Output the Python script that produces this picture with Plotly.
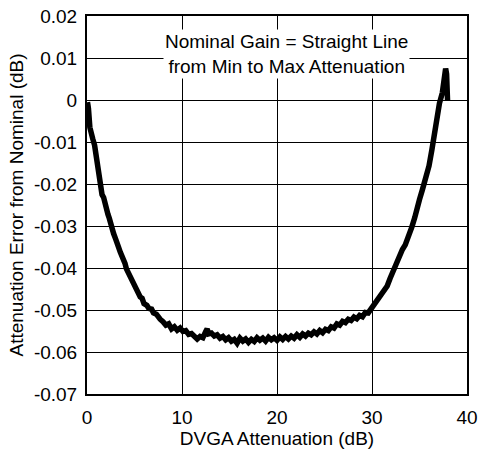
import plotly.graph_objects as go

atten_db = [0.05, 0.15, 0.3, 0.45, 0.6, 0.8, 0.95, 1.1, 1.26, 1.4, 1.58, 1.75, 1.9, 2.05, 2.2, 2.35,
            2.5, 2.65, 2.8, 3.0, 3.1, 3.3, 3.5, 3.65, 3.8, 4.0, 4.15, 4.3, 4.5, 4.65, 4.85, 5.0,
            5.2, 5.4, 5.6, 5.8, 6.0, 6.3, 6.5, 6.8, 7.0, 7.3, 7.5, 7.7,
            8.0, 8.3, 8.6, 8.9, 9.2, 9.5, 9.8, 10.1, 10.4, 10.7, 11.0, 11.3, 11.6, 11.9, 12.2,
            12.5, 12.65, 12.8, 13.1, 13.4, 13.7, 14.0, 14.3, 14.6, 14.9, 15.2, 15.5, 15.8, 16.1,
            16.4, 16.7, 17.0, 17.3, 17.6, 17.9, 18.2, 18.5, 18.8, 19.1, 19.4, 19.7, 20.0, 20.3,
            20.6, 20.9, 21.2, 21.5, 21.8, 22.1, 22.4, 22.7, 23.0, 23.3, 23.6, 23.9, 24.2, 24.5,
            24.8, 25.1, 25.4, 25.7, 26.0, 26.3, 26.6, 26.9, 27.2, 27.5, 27.8, 28.1, 28.4, 28.7,
            29.0, 29.3, 29.6, 29.9,
            30.3, 30.5, 30.8, 31.0, 31.3, 31.6, 31.9, 32.2, 32.5, 32.9, 33.2, 33.5, 33.7, 34.0,
            34.2, 34.5, 34.7, 35.0, 35.3, 35.5, 35.8, 36.0, 36.3, 36.6, 36.9, 37.1, 37.4, 37.6,
            37.75, 37.85, 37.95]

error_db = [-0.0005, -0.002, -0.0065, -0.0085, -0.0092, -0.0108, -0.0135, -0.0160, -0.0190, -0.0197,
            -0.0225, -0.0232, -0.0250, -0.0258, -0.0272, -0.0282, -0.0297, -0.0307, -0.0318, -0.0330,
            -0.0340, -0.0349, -0.0362, -0.0369, -0.0380, -0.0389, -0.0402, -0.0409, -0.0420, -0.0425,
            -0.0438, -0.0442, -0.0452, -0.0458, -0.0469, -0.0472, -0.0485, -0.0489, -0.0496, -0.0498,
            -0.0507, -0.0510, -0.0518, -0.0522,
            -0.0528, -0.0536, -0.0533, -0.0545, -0.0540, -0.0548, -0.0543, -0.0551, -0.0549, -0.0558,
            -0.0556, -0.0565, -0.0569, -0.0563, -0.0566, -0.0551, -0.0545, -0.0557, -0.0555, -0.0562,
            -0.0559, -0.0567, -0.0563, -0.0571, -0.0566, -0.0574, -0.0570, -0.0579, -0.0567, -0.0574,
            -0.0569, -0.0577, -0.0570, -0.0575, -0.0566, -0.0572, -0.0567, -0.0574, -0.0565, -0.0571,
            -0.0566, -0.0572, -0.0564, -0.0570, -0.0563, -0.0569, -0.0562, -0.0567, -0.0559, -0.0565,
            -0.0557, -0.0562, -0.0555, -0.0559, -0.0552, -0.0557, -0.0549, -0.0554, -0.0546, -0.0549,
            -0.0540, -0.0543, -0.0533, -0.0536, -0.0527, -0.0530, -0.0522, -0.0525, -0.0517, -0.0521,
            -0.0513, -0.0516, -0.0506, -0.0507, -0.0497,
            -0.0485, -0.0481, -0.0469, -0.0466, -0.0452, -0.0443, -0.0425, -0.0408, -0.0392, -0.0377,
            -0.0356, -0.0345, -0.0333, -0.0320, -0.0302, -0.0280, -0.0258, -0.0237, -0.0214, -0.0200,
            -0.0174, -0.0157, -0.0119, -0.0077, -0.0027, -0.0008, 0.0017, 0.0055, 0.0075, 0.0062, 0.0]

x_ticks = [0, 10, 20, 30, 40]
y_ticks = [0.02, 0.01, 0, -0.01, -0.02, -0.03, -0.04, -0.05, -0.06, -0.07]
y_tick_labels = ["0.02", "0.01", "0", "-0.01", "-0.02", "-0.03", "-0.04", "-0.05", "-0.06", "-0.07"]

FONT = "Liberation Sans, Arial, sans-serif"
FS = 19

fig = go.Figure()
fig.add_trace(go.Scatter(x=atten_db, y=error_db, mode="lines",
                         line=dict(color="black", width=5.5), showlegend=False))

fig.add_annotation(x=21, y=0.0109, xref="x", yref="y",
                   text="Nominal Gain = Straight Line<br>from Min to Max Attenuation",
                   showarrow=False, bgcolor="white", borderpad=1,
                   font=dict(family=FONT, size=FS, color="black"), align="center")

fig.update_xaxes(range=[0, 40], tickvals=x_ticks, ticktext=[str(v) for v in x_ticks],
                 showgrid=True, gridcolor="black", gridwidth=1.3,
                 showline=True, linecolor="black", linewidth=2, mirror=True,
                 zeroline=False, ticks="", ticklabelstandoff=5, automargin=False,
                 tickfont=dict(family=FONT, size=FS, color="black"),
                 title=dict(text="DVGA Attenuation (dB)", standoff=3,
                            font=dict(family=FONT, size=FS, color="black")))
fig.update_yaxes(range=[-0.07, 0.02], tickvals=y_ticks, ticktext=y_tick_labels,
                 showgrid=True, gridcolor="black", gridwidth=1.3,
                 showline=True, linecolor="black", linewidth=2, mirror=True,
                 zeroline=False, ticks="", ticklabelstandoff=4, automargin=False,
                 tickfont=dict(family=FONT, size=FS, color="black"),
                 title=dict(text="Attenuation Error from Nominal (dB)", standoff=5,
                            font=dict(family=FONT, size=FS, color="black")))

fig.update_layout(width=479, height=454, margin=dict(l=87, r=12, t=16, b=60),
                  plot_bgcolor="white", paper_bgcolor="white")

fig.write_html("out.html")
